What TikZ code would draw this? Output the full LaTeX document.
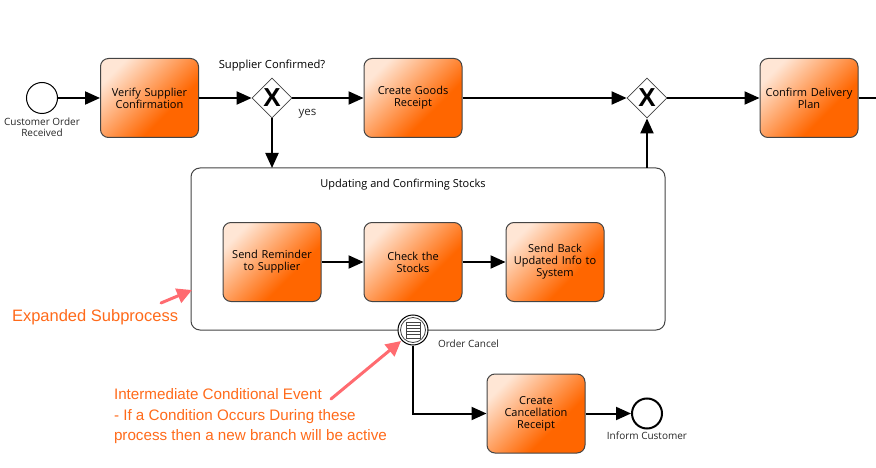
\documentclass[tikz,border=0pt]{standalone}
\usepackage{fontspec}
\setmainfont{Open Sans}
\newfontfamily\notefont{Liberation Sans}
\usetikzlibrary{arrows.meta, positioning, calc, shapes.geometric}

\lineskiplimit=-10pt

\definecolor{taskorange}{HTML}{FF6600}
\definecolor{tasklight}{HTML}{FFE6D5}
\definecolor{noteorange}{HTML}{FF6A1A}
\definecolor{notepink}{HTML}{FF6B70}
\definecolor{edgegrey}{HTML}{444444}
\pgfdeclareverticalshading{taskshade}{100bp}{color(0bp)=(taskorange);color(37bp)=(taskorange);color(75bp)=(tasklight);color(100bp)=(tasklight)}

\tikzset{
	task/.style={draw=edgegrey, line width=1pt, rounded corners=8pt, minimum width=98pt, minimum height=79pt, align=center, text width=90pt, font=\fontsize{11}{12}\selectfont, shading=taskshade, shading angle=45},
	gateway/.style={draw=edgegrey, fill=white, line width=0.8pt, diamond, minimum size=40pt, inner sep=0pt, font=\notefont\fontsize{26}{26}\selectfont\bfseries},
	event/.style={draw=black, fill=white, circle, line width=1pt, minimum size=30pt, inner sep=0pt},
	lbl/.style={font=\fontsize{10}{11}\selectfont, align=center, text=black!85},
	flow/.style={line width=2pt, -{Triangle[length=15pt,width=13pt]}},
	note/.style={font=\notefont\fontsize{15.2}{20.5}\selectfont, text=noteorange, align=left},
	pinkarrow/.style={draw=notepink, line width=3pt, line cap=round, -{Triangle[length=15pt,width=15pt]}}
}

\begin{document}
\begin{tikzpicture}[x=1pt, y=-1pt]
	\useasboundingbox (0,0) rectangle (876,468);
	\node[event, minimum size=31pt] (start) at (42,98) {};
	\node[task] (verify) at (149.5,98) {Verify Supplier\\Confirmation};
	\node[gateway] (gwa) at (272,98) {X};
	\node[task] (goods) at (413,98) {Create Goods\\Receipt};
	\node[gateway] (gwb) at (647,98) {X};
	\node[task] (plan) at (809,98) {Confirm Delivery\\Plan};
	\coordinate (out) at (876,98);

	\node[draw=edgegrey, line width=1pt, rounded corners=9pt, minimum width=474pt, minimum height=162pt] (sub) at (428,249) {};
	\coordinate (subin) at (272,168);
	\coordinate (subout) at (647,168);
	\node[task] (remind) at (272,262) {Send Reminder\\to Supplier};
	\node[task] (check) at (413,262) {Check the\\Stocks};
	\node[task] (back) at (555,262) {Send Back\\Updated Info to\\System};

	\node[event] (cond) at (413,330) {};
	\node[draw=edgegrey, circle, line width=0.8pt, minimum size=25pt, inner sep=0pt] (condin) at (cond) {};
	\node[draw=edgegrey, line width=0.8pt, minimum width=14pt, minimum height=16pt, inner sep=0pt] (condlist) at (cond) {};
	\foreach \i in {-4.5,-1.5,1.5,4.5}
		\draw[line width=0.8pt, edgegrey] ($(cond)+(-7,\i)$) -- ($(cond)+(7,\i)$);

	\node[task] (cancel) at (536,413.5) {Create\\Cancellation\\Receipt};
	\node[event, line width=2pt] (finish) at (647,413.5) {};

	% labels
	\node[lbl] (startlbl) at (42,127.5) {Customer Order\\Received};
	\node[font=\fontsize{11.2}{12}\selectfont] (asklbl) at (272,65.5) {Supplier Confirmed?};
	\node[lbl, font=\fontsize{11.5}{12}\selectfont] (yeslbl) at (307.5,114) {yes};
	\node[font=\fontsize{11}{12}\selectfont] (sublbl) at (403,185) {Updating and Confirming Stocks};
	\node[lbl] (cancellbl) at (468.5,344) {Order Cancel};
	\node[lbl] (finishlbl) at (647,436) {Inform Customer};

	% flows
	\draw[flow] (start) -- (verify);
	\draw[flow] (verify) -- (gwa);
	\draw[flow] (gwa) -- (goods);
	\draw[flow] (goods) -- (gwb);
	\draw[flow] (gwb) -- (plan);
	\draw[line width=2pt] (plan) -- (out);
	\draw[flow] (gwa) -- (subin);
	\draw[flow] (subout) -- (gwb);
	\draw[flow] (remind) -- (check);
	\draw[flow] (check) -- (back);
	\draw[flow] (cond) |- (cancel);
	\draw[flow] (cancel) -- (finish);

	% notes
	\node[note, font=\notefont\fontsize{16.5}{18}\selectfont, anchor=west] (subnote) at (8.5,317) {Expanded Subprocess};
	\node[note, anchor=north west] (condnote) at (110.5,385) {Intermediate Conditional Event\\- If a Condition Occurs During these\\process then a new branch will be active};
	\coordinate (subtip) at (192,290);
	\coordinate (subtail) at (161,303);
	\coordinate (condtip) at (401,341);
	\coordinate (condtail) at (331,399);
	\draw[pinkarrow] (subtail) -- (subtip);
	\draw[pinkarrow] (condtail) -- (condtip);
\end{tikzpicture}
\end{document}
